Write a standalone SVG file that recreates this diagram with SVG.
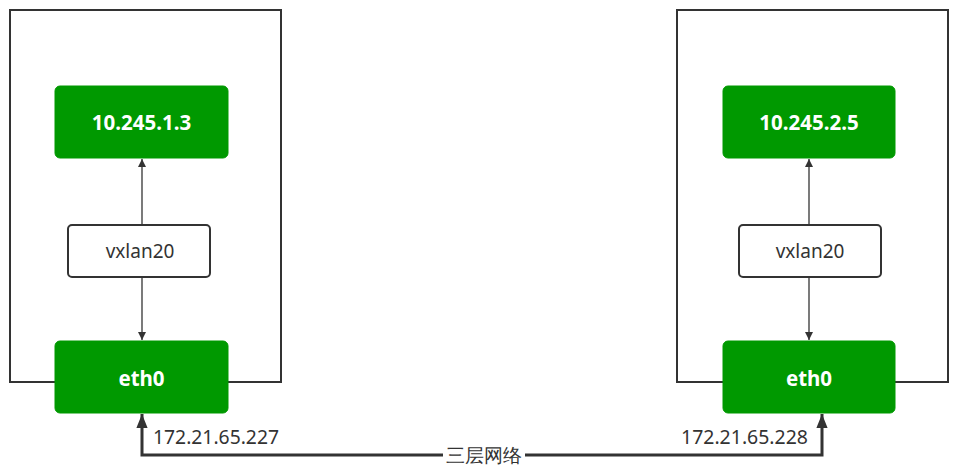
<svg xmlns="http://www.w3.org/2000/svg" width="968" height="476" viewBox="0 0 968 476">
<style>
.host{fill:none;stroke:#333;stroke-width:2}
.g{fill:#009900;stroke:#009900;stroke-width:1}
.w{fill:#fff;stroke:#333;stroke-width:2}
.gt{font-family:"Noto Sans","Open Sans",sans-serif;font-weight:bold;font-size:20.5px;fill:#fff;text-anchor:middle;dominant-baseline:central}
.t{font-family:"Noto Sans","Open Sans",sans-serif;font-size:19px;fill:#333}
.c{fill:none;stroke:#333;stroke-width:1.3}
.c2{fill:none;stroke:#333;stroke-width:3}
</style>
<defs>
<marker id="a" viewBox="0 0 10 10" refX="10" refY="5" markerWidth="8" markerHeight="8" markerUnits="userSpaceOnUse" orient="auto"><path d="M0,0 L10,5 L0,10 Z" fill="#333"/></marker>
<marker id="b" viewBox="0 0 10 10" refX="10" refY="5" markerWidth="14" markerHeight="14" markerUnits="userSpaceOnUse" orient="auto"><path d="M0,1 L10,5 L0,9 Z" fill="#333"/></marker>
</defs>
<g id="host1"><rect class="host" x="10" y="10" width="271" height="372"/></g>
<g id="host2"><rect class="host" x="677" y="10" width="271" height="372"/></g>
<g id="connectors">
<line class="c" x1="142" y1="225" x2="142" y2="159" marker-end="url(#a)"/>
<line class="c" x1="142" y1="277" x2="142" y2="340" marker-end="url(#a)"/>
<line class="c" x1="809" y1="225" x2="809" y2="159" marker-end="url(#a)"/>
<line class="c" x1="809" y1="277" x2="809" y2="340" marker-end="url(#a)"/>
<polyline class="c2" points="480,455 142,455 142,414" marker-end="url(#b)"/>
<polyline class="c2" points="480,455 822,455 822,414" marker-end="url(#b)"/>
<rect x="443" y="443" width="82" height="24" fill="#fff"/>
<text class="t" x="484" y="462" text-anchor="middle" font-family="Noto Sans CJK SC, sans-serif">三层网络</text>
<text class="t" x="153" y="444" textLength="126" lengthAdjust="spacingAndGlyphs">172.21.65.227</text>
<text class="t" x="681" y="444" textLength="127" lengthAdjust="spacingAndGlyphs">172.21.65.228</text>
</g>
<g id="pod1"><rect class="g" x="55" y="86" width="173" height="72" rx="5"/><text class="gt" x="141.5" y="122">10.245.1.3</text></g>
<g id="vxlan1"><rect class="w" x="68" y="225" width="142" height="52" rx="4"/><text class="t" x="140" y="258" text-anchor="middle">vxlan20</text></g>
<g id="eth1"><rect class="g" x="55" y="341" width="173" height="72" rx="5"/><text class="gt" x="141.5" y="378">eth0</text></g>
<g id="pod2"><rect class="g" x="723" y="86" width="172" height="72" rx="5"/><text class="gt" x="809" y="122">10.245.2.5</text></g>
<g id="vxlan2"><rect class="w" x="739" y="225" width="142" height="52" rx="4"/><text class="t" x="810" y="258" text-anchor="middle">vxlan20</text></g>
<g id="eth2"><rect class="g" x="723" y="341" width="172" height="72" rx="5"/><text class="gt" x="809" y="378">eth0</text></g>
</svg>
